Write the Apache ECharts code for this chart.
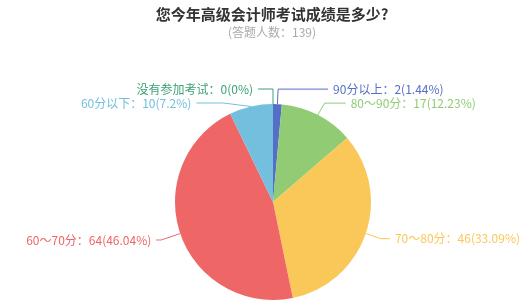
<!DOCTYPE html>
<html><head><meta charset="utf-8">
<script src="https://cdn.jsdelivr.net/npm/echarts@6/dist/echarts.min.js"></script>
<style>html,body{margin:0;padding:0;background:#fff}#c{width:528px;height:308px}</style>
</head><body><div id="c"></div>
<script>
const titleText = '您今年高级会计师考试成绩是多少?';
const subText = '(答题人数：139)';
const categories = ['90分以上', '80～90分', '70～80分', '60～70分', '60分以下', '没有参加考试'];
const values = [2, 17, 46, 64, 10, 0];
const colors = ['#5470c6', '#91cc75', '#fac858', '#ee6666', '#73c0de', '#3ba272'];
const lineLen = [15, 18, 16, 20, 15, 15];
const lineLen2 = [50, 21, 9, 5, 27, 15];

const FONT = "'Noto Sans CJK SC', 'Microsoft YaHei', sans-serif";
const chart = echarts.init(document.getElementById('c'));
chart.setOption({
  color: colors,
  textStyle: {fontFamily: FONT},
  title: {
    text: titleText, subtext: subText, left: 267, top: 2,
    textAlign: 'center',
    itemGap: 4,
    textStyle: {fontSize: 15, fontWeight: 'bold', color: '#333', fontFamily: FONT},
    subtextStyle: {fontSize: 12, color: '#aaa', fontFamily: FONT}
  },
  series: [{
    type: 'pie',
    center: [273, 202],
    radius: 98,
    startAngle: 90,
    avoidLabelOverlap: true,
    label: {formatter: '{b}：{c}({d}%)', fontSize: 12, overflow: 'none', fontFamily: FONT},
    labelLine: {length: 15, length2: 15},
    data: categories.map((c, i) => ({
      name: c, value: values[i],
      label: {color: colors[i]},
      labelLine: {length: lineLen[i], length2: lineLen2[i]}
    }))
  }]
});
</script></body></html>
